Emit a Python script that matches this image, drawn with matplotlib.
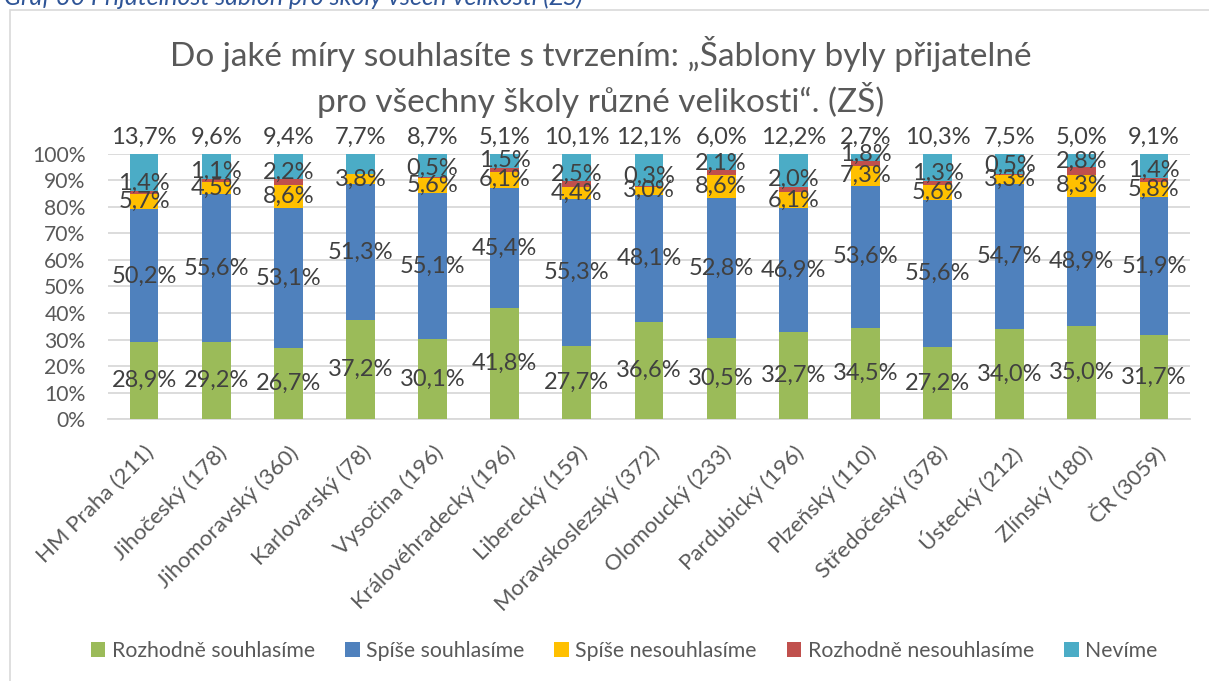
import numpy as np
import matplotlib.pyplot as plt
from matplotlib.patches import Rectangle
from matplotlib.transforms import ScaledTranslation

plt.rcParams['font.family'] = ['Lato', 'DejaVu Sans']

regions = ['HM Praha (211)', 'Jihočeský (178)', 'Jihomoravský (360)', 'Karlovarský (78)',
           'Vysočina (196)', 'Královéhradecký (196)', 'Liberecký (159)', 'Moravskoslezský (372)',
           'Olomoucký (233)', 'Pardubický (196)', 'Plzeňský (110)', 'Středočeský (378)',
           'Ústecký (212)', 'Zlínský (180)', 'ČR (3059)']

rozhodne_ano = [28.9, 29.2, 26.7, 37.2, 30.1, 41.8, 27.7, 36.6, 30.5, 32.7, 34.5, 27.2, 34.0, 35.0, 31.7]
spise_ano = [50.2, 55.6, 53.1, 51.3, 55.1, 45.4, 55.3, 48.1, 52.8, 46.9, 53.6, 55.6, 54.7, 48.9, 51.9]
spise_ne = [5.7, 4.5, 8.6, 3.8, 5.6, 6.1, 4.4, 3.0, 8.6, 6.1, 7.3, 5.6, 3.3, 8.3, 5.8]
rozhodne_ne = [1.4, 1.1, 2.2, 0.0, 0.5, 1.5, 2.5, 0.3, 2.1, 2.0, 1.8, 1.3, 0.5, 2.8, 1.4]
nevime = [13.7, 9.6, 9.4, 7.7, 8.7, 5.1, 10.1, 12.1, 6.0, 12.2, 2.7, 10.3, 7.5, 5.0, 9.1]

series = [('Rozhodně souhlasíme', rozhodne_ano, '#9BBB59'),
          ('Spíše souhlasíme', spise_ano, '#4F81BD'),
          ('Spíše nesouhlasíme', spise_ne, '#FFC000'),
          ('Rozhodně nesouhlasíme', rozhodne_ne, '#C0504D'),
          ('Nevíme', nevime, '#4BACC6')]

label_col = '#404040'
axis_col = '#595959'


def fmt(v):
    return '{0:.1f}%'.format(v).replace('.', ',')


fig = plt.figure(figsize=(12.09, 6.81), dpi=100)
ax = fig.add_axes([0.0893, 0.3847, 0.895, 0.3892])

# chart frame and the cut caption line above it
fig.patches.append(Rectangle((10 / 1209, -0.1), 1.2, 1 - 10 / 681 + 0.1, transform=fig.transFigure,
                             fill=False, edgecolor='#D9D9D9', lw=1.2))
fig.text(0.003, 1 - 5 / 681, 'Graf 30 Přijatelnost šablon pro školy všech velikostí (ZŠ)',
         fontsize=18, style='italic', color='#2F5597', ha='left', va='baseline')

x = np.arange(len(regions))
bottom = np.zeros(len(regions))
for i, (name, vals, col) in enumerate(series):
    vals = np.array(vals)
    ax.bar(x, vals, 0.4, bottom=bottom, color=col, label=name, zorder=3)
    for xi, b, v in zip(x, bottom, vals):
        if v <= 0:
            continue
        if i == 4:
            y = 106.3
        elif i == 3:
            y = b + v / 2 + 3.6
        else:
            y = b + v / 2
        ax.text(xi, y, fmt(v), ha='center', va='center', fontsize=17,
                color=label_col, zorder=4, clip_on=False)
    bottom += vals

ax.set_xlim(-0.5, len(regions) - 0.5)
ax.set_ylim(0, 100)
ax.set_yticks(np.arange(0, 101, 10))
ax.set_yticklabels(['{0}%'.format(t) for t in range(0, 101, 10)], fontsize=15.2, color=axis_col)
ax.set_xticks(x)
ax.set_xticklabels(regions, rotation=45, ha='right', rotation_mode='anchor',
                   fontsize=16, color=axis_col)
ax.tick_params(axis='both', length=0)
ax.tick_params(axis='y', pad=16)
ax.tick_params(axis='x', pad=6)
shift = ScaledTranslation(0.0, -0.15, fig.dpi_scale_trans)
for lab in ax.get_xticklabels():
    lab.set_transform(lab.get_transform() + shift)
ax.grid(axis='y', color='#D9D9D9', lw=1.3, zorder=0)
for s in ['top', 'right', 'left']:
    ax.spines[s].set_visible(False)
ax.spines['bottom'].set_color('#D9D9D9')
ax.spines['bottom'].set_linewidth(1.3)

fig.text(0.497, 1 - 77 / 681,
         'Do jaké míry souhlasíte s tvrzením: „Šablony byly přijatelné\npro všechny školy různé velikosti“. (ZŠ)',
         ha='center', va='center', fontsize=24, color=axis_col, linespacing=1.3)

fig.legend(loc='center', bbox_to_anchor=(624 / 1209, 1 - 651 / 681), ncol=5, frameon=False,
           fontsize=15.3, handlelength=0.7, handleheight=0.7, handletextpad=0.3,
           columnspacing=1.4, labelcolor=axis_col)

fig.savefig('out.png', dpi=100)
